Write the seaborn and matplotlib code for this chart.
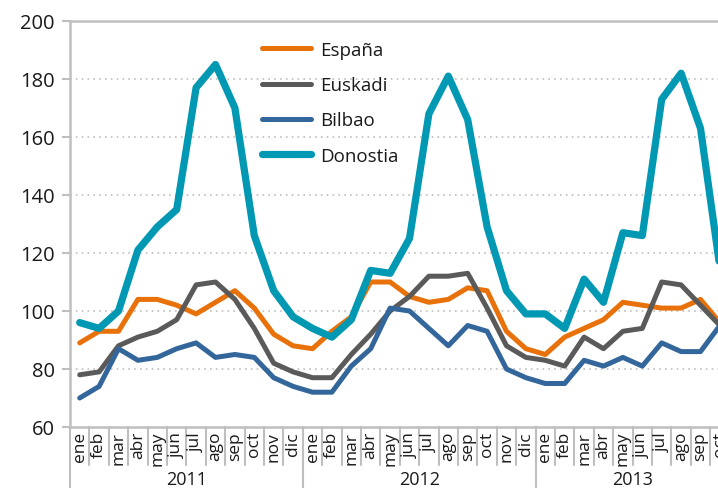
import pandas as pd
import matplotlib.pyplot as plt
import matplotlib.transforms as mtransforms
import seaborn as sns
from matplotlib.lines import Line2D

# Monthly index values, ene 2011 - oct 2013
meses = ['ene', 'feb', 'mar', 'abr', 'may', 'jun', 'jul', 'ago', 'sep', 'oct', 'nov', 'dic']
years = ['2011', '2012', '2013']
months_per_year = [12, 12, 10]

espana = [89, 93, 93, 104, 104, 102, 99, 103, 107, 101, 92, 88,
          87, 93, 98, 110, 110, 105, 103, 104, 108, 107, 93, 87,
          85, 91, 94, 97, 103, 102, 101, 101, 104, 96]
euskadi = [78, 79, 88, 91, 93, 97, 109, 110, 104, 94, 82, 79,
           77, 77, 85, 92, 100, 105, 112, 112, 113, 101, 88, 84,
           83, 81, 91, 87, 93, 94, 110, 109, 102, 95]
bilbao = [70, 74, 87, 83, 84, 87, 89, 84, 85, 84, 77, 74,
          72, 72, 81, 87, 101, 100, 94, 88, 95, 93, 80, 77,
          75, 75, 83, 81, 84, 81, 89, 86, 86, 95]
donostia = [96, 94, 100, 121, 129, 135, 177, 185, 170, 126, 107, 98,
            94, 91, 97, 114, 113, 125, 168, 181, 166, 129, 107, 99,
            99, 94, 111, 103, 127, 126, 173, 182, 163, 115]

series = {'España': espana, 'Euskadi': euskadi, 'Bilbao': bilbao, 'Donostia': donostia}
colors = {'España': '#E8710A', 'Euskadi': '#5A5A5A', 'Bilbao': '#33669A', 'Donostia': '#0098B2'}
widths = {'España': 3.6, 'Euskadi': 3.6, 'Bilbao': 3.6, 'Donostia': 5.2}

month_labels = []
for y, n in zip(years, months_per_year):
    month_labels += meses[:n]
n_pts = len(month_labels)

sns.set_style('white')
plt.rcParams['font.family'] = ['Open Sans', 'DejaVu Sans']
text_color = '#1A1A1A'
grey = '#BFBFBF'

W, H = 718, 489
fig = plt.figure(figsize=(W / 100, H / 100), dpi=100)
left, right_px, top, bottom = 70, 70 + n_pts * 19.4, 22, 428
ax = fig.add_axes([left / W, (H - bottom) / H, (right_px - left) / W, (bottom - top) / H])

for name, vals in series.items():
    df = pd.DataFrame({'idx': range(n_pts), 'valor': vals})
    sns.lineplot(data=df, x='idx', y='valor', ax=ax, color=colors[name],
                 linewidth=widths[name], solid_joinstyle='round',
                 solid_capstyle='round', label=name)

ax.set_xlim(-0.5, n_pts - 0.5)
ax.set_ylim(60, 200)
ax.set_yticks(range(60, 201, 20))
ax.set_xticks([])
ax.set_xlabel('')
ax.set_ylabel('')
ax.tick_params(axis='y', labelsize=14.5, colors=grey, labelcolor=text_color,
               length=6, width=1.5, direction='out', left=True, pad=5)
for y in range(80, 200, 20):
    ax.axhline(y, color=grey, linestyle=(0, (1, 2.5)), linewidth=1.2, zorder=0)
for s in ['left', 'top', 'bottom']:
    ax.spines[s].set_color(grey)
    ax.spines[s].set_linewidth(1.8)
ax.spines['right'].set_visible(False)

# multi-level category axis
trans = mtransforms.blended_transform_factory(ax.transData, ax.transAxes)
h = bottom - top
for i, lab in enumerate(month_labels):
    ax.text(i, -4 / h, lab, transform=trans, rotation=90, ha='center', va='top',
            fontsize=12.5, color=text_color)
for i in range(1, n_pts):
    ax.plot([i - 0.5, i - 0.5], [0, -38 / h], transform=trans, color=grey,
            linewidth=1.5, clip_on=False)
start = 0
for y, n in zip(years, months_per_year):
    ax.plot([start - 0.5, start - 0.5], [0, -62 / h], transform=trans, color=grey,
            linewidth=1.5, clip_on=False)
    ax.text(start + (n - 1) / 2, -52 / h, y, transform=trans, ha='center', va='center',
            fontsize=13, color=text_color)
    start += n

handles = [Line2D([], [], color=colors[n], linewidth=widths[n], solid_capstyle='round')
           for n in series]
leg = ax.legend(handles, list(series), loc='upper left',
                bbox_to_anchor=(245 / W, 1 - 25 / H), bbox_transform=fig.transFigure,
                frameon=False, fontsize=13.5, handlelength=2.6, labelspacing=0.92,
                handletextpad=0.5)
for t in leg.get_texts():
    t.set_color(text_color)

fig.savefig('out.png', dpi=100)
